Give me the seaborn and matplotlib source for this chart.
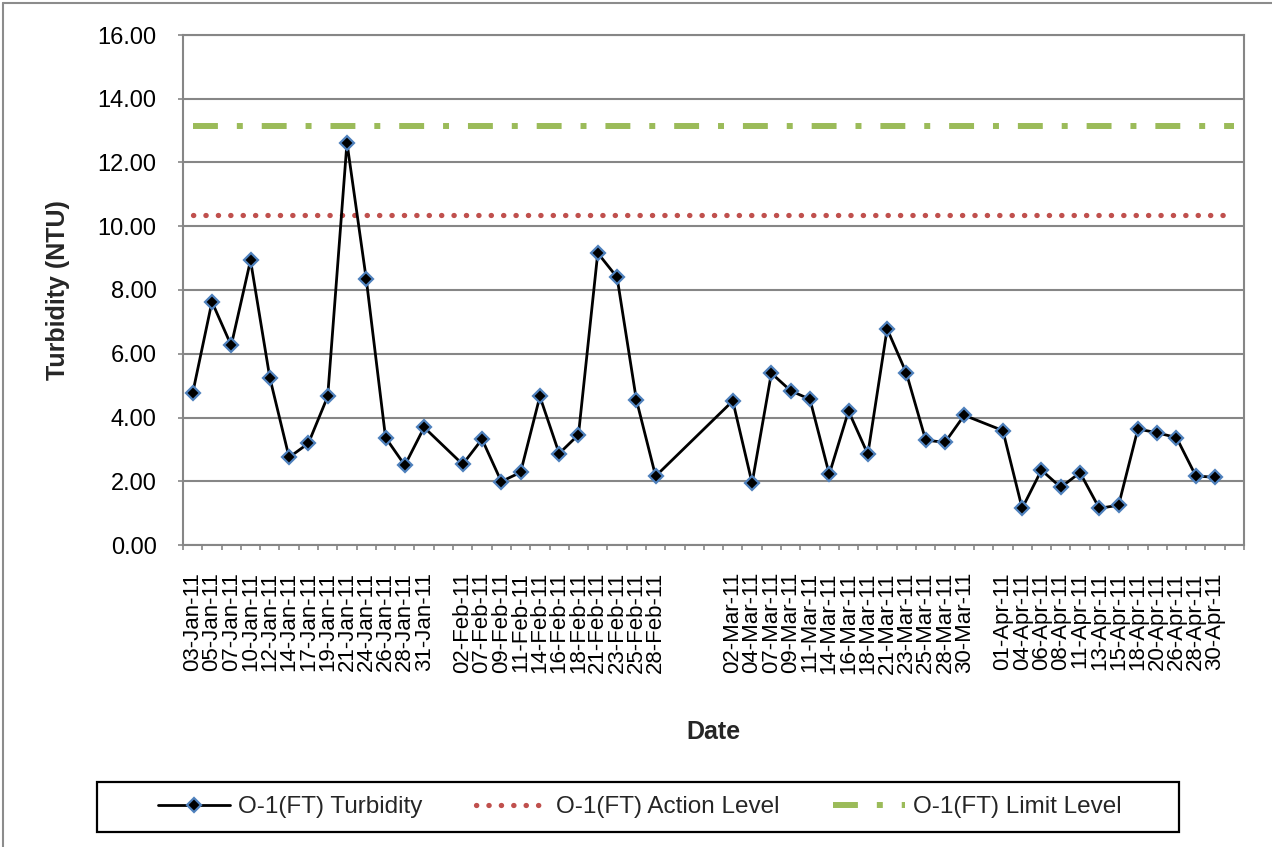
import matplotlib
matplotlib.use("Agg")
import matplotlib.pyplot as plt
import seaborn as sns
import pandas as pd
import numpy as np
from matplotlib.lines import Line2D
from matplotlib.patches import Rectangle
from matplotlib.ticker import FormatStrFormatter

# Sampling dates (blank entries are rows without a sample)
dates = [
    "03-Jan-11", "05-Jan-11", "07-Jan-11", "10-Jan-11", "12-Jan-11", "14-Jan-11",
    "17-Jan-11", "19-Jan-11", "21-Jan-11", "24-Jan-11", "26-Jan-11", "28-Jan-11",
    "31-Jan-11", "",
    "02-Feb-11", "07-Feb-11", "09-Feb-11", "11-Feb-11", "14-Feb-11", "16-Feb-11",
    "18-Feb-11", "21-Feb-11", "23-Feb-11", "25-Feb-11", "28-Feb-11", "", "", "",
    "02-Mar-11", "04-Mar-11", "07-Mar-11", "09-Mar-11", "11-Mar-11", "14-Mar-11",
    "16-Mar-11", "18-Mar-11", "21-Mar-11", "23-Mar-11", "25-Mar-11", "28-Mar-11",
    "30-Mar-11", "",
    "01-Apr-11", "04-Apr-11", "06-Apr-11", "08-Apr-11", "11-Apr-11", "13-Apr-11",
    "15-Apr-11", "18-Apr-11", "20-Apr-11", "26-Apr-11", "28-Apr-11", "30-Apr-11", "",
]

# Turbidity readings in NTU (None where no sample was taken)
turbidity = [
    4.76, 7.63, 6.26, 8.93, 5.25, 2.75, 3.19, 4.66, 12.62, 8.34, 3.37, 2.50, 3.69, None,
    2.53, 3.32, 1.99, 2.28, 4.66, 2.87, 3.46, 9.16, 8.40, 4.56, 2.16, None, None, None,
    4.52, 1.94, 5.39, 4.84, 4.57, 2.22, 4.20, 2.85, 6.78, 5.39, 3.29, 3.22, 4.07, None,
    3.59, 1.15, 2.35, 1.81, 2.27, 1.15, 1.25, 3.64, 3.52, 3.37, 2.17, 2.12, None,
]

ACTION_LEVEL = 10.35
LIMIT_LEVEL = 13.15

series_labels = ["O-1(FT) Turbidity", "O-1(FT) Action Level", "O-1(FT) Limit Level"]

sns.set_theme(style="white")
plt.rcParams["font.family"] = ["Liberation Sans", "DejaVu Sans"]

W, H = 1272, 847
fig = plt.figure(figsize=(W / 100, H / 100), dpi=100)
ax = fig.add_axes([183 / W, 1 - 545 / H, (1244 - 183) / W, (545 - 35) / H])

df = pd.DataFrame({
    "pos": np.arange(len(dates)),
    "date": dates,
    "turbidity": pd.to_numeric(pd.Series(turbidity), errors="coerce"),
})
df["action"] = ACTION_LEVEL
df["limit"] = LIMIT_LEVEL
measured = df.dropna(subset=["turbidity"])

GRID = "#868686"

sns.lineplot(data=measured, x="pos", y="turbidity", ax=ax, color="black",
             lw=2.0, marker="D", markersize=7.5, markerfacecolor="black",
             markeredgecolor="#4F81BD", markeredgewidth=1.6,
             label=series_labels[0], zorder=4)
sns.lineplot(data=df, x="pos", y="action", ax=ax, color="#C0504D", lw=3.8,
             linestyle=(0, (0.05, 2.3)), dash_capstyle="round",
             label=series_labels[1], zorder=3)
sns.lineplot(data=df, x="pos", y="limit", ax=ax, color="#9BBB59", lw=4.3,
             linestyle=(0, (4.17, 3.17, 1.0, 3.17)), dash_capstyle="butt",
             label=series_labels[2], zorder=3)

handles, labels = ax.get_legend_handles_labels()
if ax.get_legend() is not None:
    ax.get_legend().remove()

# Axes, grid and ticks
ax.set_xlim(-0.5, len(dates) - 0.5)
ax.set_ylim(0, 16)
ax.set_yticks(np.arange(0, 17, 2))
ax.yaxis.set_major_formatter(FormatStrFormatter("%.2f"))
ax.set_xticks(df["pos"])
ax.set_xticklabels(dates, rotation=90, fontsize=16)
ax.set_xticks(np.arange(-0.5, len(dates), 1), minor=True)
ax.set_xlabel("")
ax.set_ylabel("")

ax.set_axisbelow(True)
ax.yaxis.grid(True, color=GRID, lw=1.5)
ax.xaxis.grid(False)
for s in ax.spines.values():
    s.set_visible(True)
    s.set_color(GRID)
    s.set_linewidth(1.5)

ax.tick_params(axis="x", which="major", length=0, pad=19.5, labelcolor="black")
ax.tick_params(axis="x", which="minor", length=3.8, width=1.2, color=GRID,
               direction="out", bottom=True)
ax.tick_params(axis="y", which="major", length=3.5, width=1.2, color=GRID,
               direction="out", left=True, labelsize=17, pad=15.5, labelcolor="black")

# Axis titles
fig.text(713 / W, 1 - 732 / H, "Date", ha="center", va="center",
         fontsize=18, fontweight="bold")
fig.text(58 / W, 1 - 290 / H, "Turbidity (NTU)", ha="center", va="center",
         rotation=90, fontsize=18, fontweight="bold")

# Chart area border
border = "#8c8c8c"
fig.add_artist(Line2D([3 / W, 3 / W], [0, 1 - 3 / H], transform=fig.transFigure,
                      color=border, lw=1.5))
fig.add_artist(Line2D([3 / W, 1], [1 - 3 / H, 1 - 3 / H], transform=fig.transFigure,
                      color=border, lw=1.5))

# Legend with its own frame
fig.add_artist(Rectangle((97 / W, 1 - 832 / H), (1179 - 97) / W, 50 / H,
                         transform=fig.transFigure, fill=False,
                         edgecolor="black", lw=1.6))
fig.legend(handles, labels, loc="center", bbox_to_anchor=(640 / W, 1 - 807 / H),
           ncol=3, frameon=False, fontsize=17.5, handlelength=2.96,
           handletextpad=0.33, columnspacing=2.2, numpoints=1)

fig.savefig("out.png", dpi=100)
